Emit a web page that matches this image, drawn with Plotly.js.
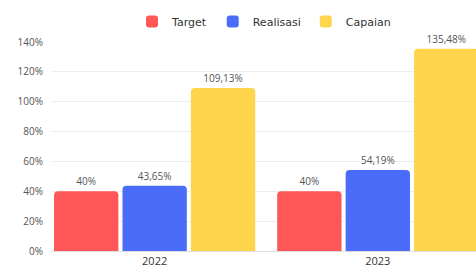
<!DOCTYPE html>
<html>
<head>
<meta charset="utf-8">
<script src="https://cdn.plot.ly/plotly-3.0.1.min.js"></script>
<style>html,body{margin:0;padding:0;background:#fff;}#chart{width:476px;height:271px;}</style>
</head>
<body>
<div id="chart"></div>
<script>
const years = ['2022', '2023'];
const target = [40, 40];
const realisasi = [43.65, 54.19];
const capaian = [109.13, 135.48];
const seriesNames = ['Target', 'Realisasi', 'Capaian'];
const colors = ['#FF5757', '#4B6CF8', '#FFD54D'];

function fmt(v) { return String(v).replace('.', ',') + '%'; }

const allSeries = [target, realisasi, capaian];
const traces = allSeries.map((vals, i) => ({
  type: 'bar',
  name: seriesNames[i],
  x: years,
  y: vals,
  text: vals.map(fmt),
  textposition: 'outside',
  cliponaxis: false,
  textfont: {size: 10, color: '#555', family: 'Open Sans'},
  marker: {color: colors[i], cornerradius: 4},
  hoverinfo: 'none'
}));

const layout = {
  width: 476, height: 271,
  margin: {l: 52, r: 0, t: 42, b: 20},
  paper_bgcolor: '#fff', plot_bgcolor: '#fff',
  font: {family: 'Open Sans', color: '#444'},
  barmode: 'group',
  bargap: 0.08,
  bargroupgap: 0.06,
  showlegend: true,
  legend: {orientation: 'h', x: 0.5, xanchor: 'center', y: 1 + 35/209, yanchor: 'top',
           font: {size: 11, color: '#333', family: 'DejaVu Sans'}, itemclick: false, traceorder: 'normal'},
  xaxis: {type: 'category', range: [-0.46, 1.44], showgrid: false, zeroline: false,
          showline: true, linecolor: '#ddd', linewidth: 1, ticks: '',
          tickfont: {size: 11, color: '#333'}, fixedrange: true},
  yaxis: {range: [0, 140], dtick: 20, ticksuffix: '%', showgrid: true, gridcolor: '#eeeeee',
          zeroline: false, showline: false, ticks: '', ticklabelstandoff: 8,
          tickfont: {size: 10, color: '#555'}, fixedrange: true}
};

Plotly.newPlot('chart', traces, layout, {displayModeBar: false, staticPlot: true});
</script>
</body>
</html>
